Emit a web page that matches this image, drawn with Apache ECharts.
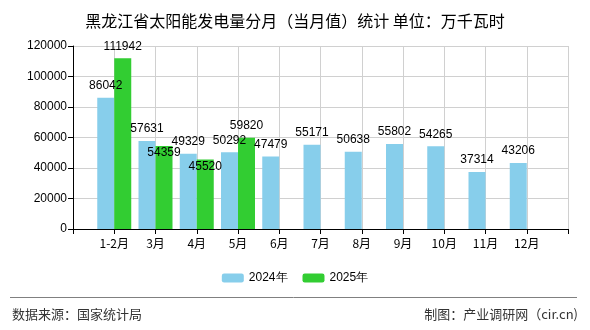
<!DOCTYPE html>
<html>
<head>
<meta charset="utf-8">
<script src="https://cdn.jsdelivr.net/npm/echarts@6/dist/echarts.min.js"></script>
<style>
html,body{margin:0;padding:0;background:#fff;}
#c{width:590px;height:330px;}
</style>
</head>
<body>
<div id="c"></div>
<script>
var categories = ['', '1-2月', '3月', '4月', '5月', '6月', '7月', '8月', '9月', '10月', '11月', '12月', ''];
var series2024 = [null, 86042, 57631, 49329, 50292, 47479, 55171, 50638, 55802, 54265, 37314, 43206, null];
var series2025 = [null, 111942, 54359, 45520, 59820, null, null, null, null, null, null, null, null];
var yTicks = [0, 20000, 40000, 60000, 80000, 100000, 120000];
var insideLabelIdx = [2, 3];

var chart = echarts.init(document.getElementById('c'));
var font = "'Noto Sans CJK SC', sans-serif";
var numFont = "'Liberation Sans', sans-serif";

function makeData(arr, inside) {
  return arr.map(function (v, i) {
    if (inside && inside.indexOf(i) >= 0) {
      return { value: v, label: { offset: [0, 19] } };
    }
    return v;
  });
}

chart.setOption({
  animation: false,
  title: {
    text: '黑龙江省太阳能发电量分月（当月值）统计 单位：万千瓦时',
    left: 'center',
    top: 8,
    textStyle: { fontSize: 16, fontWeight: 'normal', color: '#000', fontFamily: font }
  },
  legend: {
    bottom: 41,
    left: 'center',
    itemWidth: 22,
    itemHeight: 9,
    itemGap: 15,
    textStyle: { fontSize: 12, color: '#000', fontFamily: numFont },
    data: ['2024年', '2025年']
  },
  grid: { left: 73, right: 22, top: 46, bottom: 101 },
  xAxis: {
    type: 'category',
    data: categories,
    boundaryGap: false,
    axisLine: { lineStyle: { color: '#000' } },
    axisTick: { show: true, length: 5, lineStyle: { color: '#000' }, interval: 0 },
    axisLabel: { interval: 0, color: '#000', fontSize: 12, fontFamily: font, margin: 8 },
    splitLine: { show: true, interval: 0, lineStyle: { color: '#d0d0d0' } }
  },
  yAxis: {
    type: 'value',
    min: yTicks[0],
    max: yTicks[yTicks.length - 1],
    interval: yTicks[1] - yTicks[0],
    axisLine: { show: true, lineStyle: { color: '#000' } },
    axisTick: { show: true, length: 5, lineStyle: { color: '#000' } },
    axisLabel: { color: '#000', fontSize: 12, fontFamily: numFont, margin: 6, formatter: function (v) { return String(v); } },
    splitLine: { show: true, lineStyle: { color: '#d0d0d0' } }
  },
  series: [
    {
      name: '2024年',
      type: 'bar',
      barWidth: 17,
      barGap: '0%',
      itemStyle: { color: '#87CEEB' },
      label: { show: true, position: 'top', distance: 6, color: '#000', fontSize: 12, fontFamily: numFont },
      data: makeData(series2024)
    },
    {
      name: '2025年',
      type: 'bar',
      barWidth: 17,
      barGap: '0%',
      itemStyle: { color: '#32CD32' },
      label: { show: true, position: 'top', distance: 6, color: '#000', fontSize: 12, fontFamily: numFont },
      data: makeData(series2025, insideLabelIdx)
    }
  ],
  graphic: [
    { type: 'line', shape: { x1: 10, y1: 297.5, x2: 577, y2: 297.5 }, style: { stroke: '#808080', lineWidth: 1 } },
    { type: 'text', left: 12, top: 308, style: { text: '数据来源：国家统计局', fontSize: 13, fill: '#333', fontFamily: font } },
    { type: 'text', right: 12, top: 308, style: { text: '制图：产业调研网（cir.cn)', fontSize: 13, fill: '#333', fontFamily: font } }
  ]
});
</script>
</body>
</html>
